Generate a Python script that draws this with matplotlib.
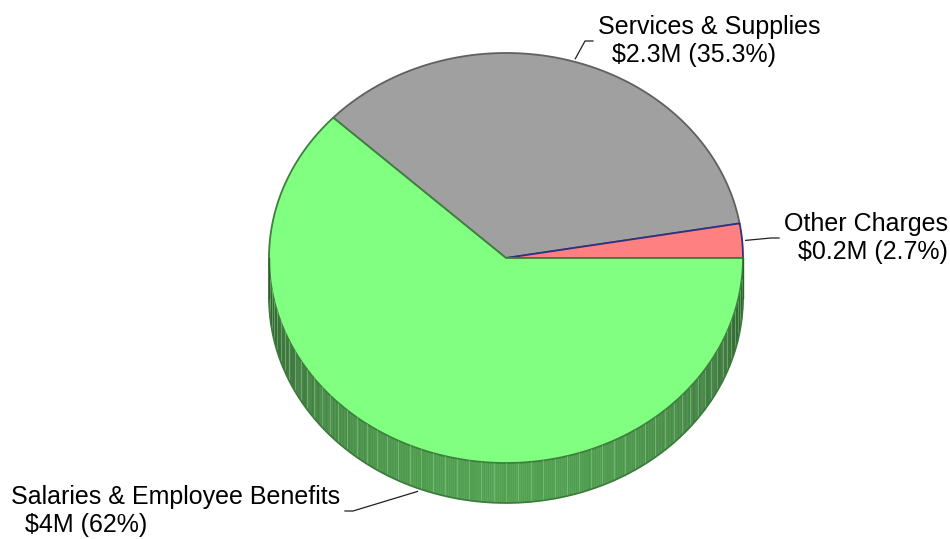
import numpy as np
import matplotlib.pyplot as plt
from matplotlib.patches import Polygon

plt.rcParams['font.family'] = ['Liberation Sans', 'DejaVu Sans']

# slices, counter-clockwise from 3 o'clock
names = ['Other Charges', 'Services & Supplies', 'Salaries & Employee Benefits']
amounts = [0.2, 2.3, 4.0]          # $M
shares = [2.7, 35.3, 62.0]         # percent of total
faces = ['#ff8080', '#a0a0a0', '#80ff80']
edges = ['#303080', '#606060', '#3f7f3f']
side_rgb = np.array([128, 255, 128]) / 255.0

# pie geometry in pixels
cx, cy = 506, 258
rx, ry = 237, 205
depth = 40

# where each leader line bends, and which side its text sits on
elbows = [(771, 238), (585, 41), (353, 511)]
sides = ['left', 'left', 'right']


def ell(theta, dz=0.0, k=1.0):
    t = np.radians(theta)
    return cx + k * rx * np.cos(t), cy - k * ry * np.sin(t) + dz


fig = plt.figure(figsize=(9.5, 5.39), dpi=100)
ax = fig.add_axes([0, 0, 1, 1])
ax.set_xlim(0, 950)
ax.set_ylim(539, 0)
ax.axis('off')

bounds = np.concatenate([[0], np.cumsum(shares)]) / 100.0 * 360.0

# front wall of the pie (all of it belongs to the last slice)
step = 0.5
for a in np.arange(180, 360, step):
    f = -np.sin(np.radians(a + step / 2))
    col = side_rgb * (0.35 + 0.28 * f)
    x0, y0 = ell(a)
    x1, y1 = ell(a + step)
    quad = [(x0, y0), (x1, y1), (x1, y1 + depth), (x0, y0 + depth)]
    ax.add_patch(Polygon(quad, closed=True, facecolor=col, edgecolor=col,
                         linewidth=0.3))
for a in np.arange(183, 360, 3):
    x0, y0 = ell(a)
    ax.plot([x0, x0], [y0, y0 + depth], color='#90d090', lw=0.6, alpha=0.6)

arc = np.linspace(180, 360, 200)
bx, by = ell(arc, depth)
ax.plot(bx, by, color='#3a7a3a', lw=1.2)
for a in (180, 360):
    x0, y0 = ell(a)
    ax.plot([x0, x0], [y0, y0 + depth], color='#2f5f2f', lw=1.0)

# top faces: grey, then pink, then green so shared edges match
for i in (1, 0, 2):
    a = np.linspace(bounds[i], bounds[i + 1], 200)
    px, py = ell(a)
    pts = np.column_stack([np.r_[cx, px], np.r_[cy, py]])
    ax.add_patch(Polygon(pts, closed=True, facecolor=faces[i],
                         edgecolor=edges[i], linewidth=1.3,
                         joinstyle='round'))

# labels with leader lines
for i in range(3):
    mid = (bounds[i] + bounds[i + 1]) / 2
    dz = depth if mid > 180 else 0
    sx, sy = ell(mid, dz, 1.015)
    ex, ey = elbows[i]
    if sides[i] == 'left':
        tx, ha = ex + 8, 'left'
    else:
        tx, ha = ex - 8, 'right'
    ax.plot([sx, ex, tx], [sy, ey, ey], color='#202020', lw=0.9)
    text = '%s\n  $%gM (%g%%)' % (names[i], amounts[i], shares[i])
    off = 5 if ha == 'left' else -5
    ax.text(tx + off, ey, text, ha=ha, va='center', multialignment='left',
            fontsize=18, color='black', linespacing=1.2)

fig.savefig('out.png', dpi=100)
